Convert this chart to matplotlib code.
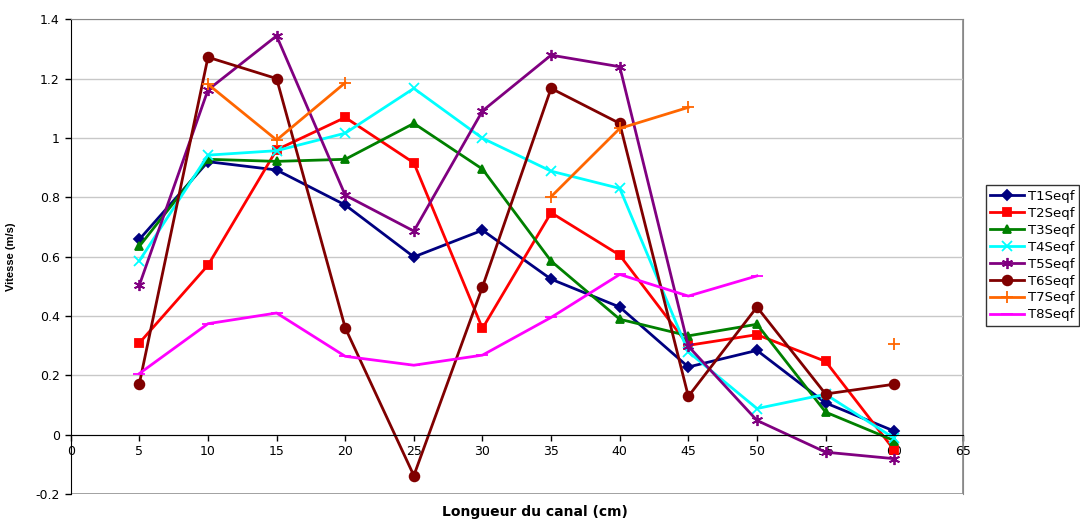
import numpy as np
import matplotlib.pyplot as plt
from matplotlib.ticker import MultipleLocator, FuncFormatter
from matplotlib.patches import Rectangle

plt.rcParams['font.family'] = ['DejaVu Sans']

# --- Données ---
longueur = [5, 10, 15, 20, 25, 30, 35, 40, 45, 50, 55, 60]
nan = np.nan

T1 = [0.658, 0.920, 0.892, 0.774, 0.599, 0.689, 0.524, 0.430, 0.228, 0.284, 0.107, 0.012]
T2 = [0.309, 0.571, 0.960, 1.069, 0.916, 0.358, 0.748, 0.605, 0.301, 0.337, 0.247, -0.052]
T3 = [0.635, 0.928, 0.921, 0.928, 1.049, 0.895, 0.585, 0.389, 0.333, 0.372, 0.076, -0.020]
T4 = [0.586, 0.942, 0.957, 1.016, 1.167, 0.999, 0.888, 0.830, 0.279, 0.088, 0.136, -0.012]
T5 = [0.504, 1.162, 1.344, 0.807, 0.686, 1.091, 1.279, 1.240, 0.298, 0.048, -0.059, -0.081]
T6 = [0.172, 1.272, 1.200, 0.360, -0.138, 0.498, 1.167, 1.049, 0.129, 0.430, 0.137, 0.170]
T7 = [nan, 1.181, 0.993, 1.186, nan, nan, 0.802, 1.032, 1.103, nan, nan, 0.304]
T8 = [0.206, 0.374, 0.410, 0.264, 0.234, 0.268, 0.395, 0.540, 0.467, 0.535, nan, nan]

noms = ['T1Seqf', 'T2Seqf', 'T3Seqf', 'T4Seqf', 'T5Seqf', 'T6Seqf', 'T7Seqf', 'T8Seqf']
series = [T1, T2, T3, T4, T5, T6, T7, T8]

# style Excel
couleurs = ['#000080', '#ff0000', '#008000', '#00ffff', '#800080', '#800000', '#ff6600', '#ff00ff']
marqueurs = ['D', 's', '^', 'x', (6, 2, 0), 'o', '+', '_']
tailles = [5.5, 5.5, 6, 7, 8, 7, 8, 8]

fig = plt.figure(figsize=(10.8, 5.2), dpi=100)
ax = fig.add_axes([0.0655, 0.05, 0.826, 0.913])

for y, nom, c, m, ms in zip(series, noms, couleurs, marqueurs, tailles):
    ax.plot(longueur, y, color=c, marker=m, markersize=ms, lw=2,
            markeredgewidth=1.3, label=nom, clip_on=False)

ax.set_xlim(0, 65)
ax.set_ylim(-0.2, 1.4)
ax.xaxis.set_major_locator(MultipleLocator(5))
ax.yaxis.set_major_locator(MultipleLocator(0.2))
ax.yaxis.set_major_formatter(FuncFormatter(lambda v, p: '%g' % round(v, 2)))
ax.grid(axis='y', color='#c8c8c8', lw=1)
ax.set_axisbelow(True)

# axe des x à y = 0
ax.spines['bottom'].set_position(('data', 0))
ax.spines['bottom'].set_color('black')
ax.spines['left'].set_color('black')
ax.spines['top'].set_color('#888888')
ax.spines['right'].set_color('#888888')
ax.add_patch(Rectangle((0, 0), 1, 1, transform=ax.transAxes, fill=False,
                       edgecolor='#888888', lw=1.2, zorder=0))
ax.tick_params(direction='out', length=4, width=1, labelsize=9, colors='black')
ax.tick_params(axis='y', pad=4)

ax.set_ylabel('Vitesse (m/s)', fontsize=8, fontweight='bold',
              family=['Liberation Sans', 'DejaVu Sans'])
ax.yaxis.set_label_coords(-0.061, 0.5)
ax.set_xlabel('Longueur du canal (cm)', fontsize=10, fontweight='bold')
ax.xaxis.label.set_va('bottom')
ax.xaxis.set_label_coords(0.52, -0.052)

leg = fig.legend(loc='upper left', bbox_to_anchor=(0.9125, 0.644), fontsize=9.5,
                 frameon=True, fancybox=False, edgecolor='black',
                 handlelength=2.6, handletextpad=0.25, labelspacing=0.3,
                 borderpad=0.35, borderaxespad=0)
leg.get_frame().set_linewidth(1)

fig.savefig('out.png', dpi=100)
